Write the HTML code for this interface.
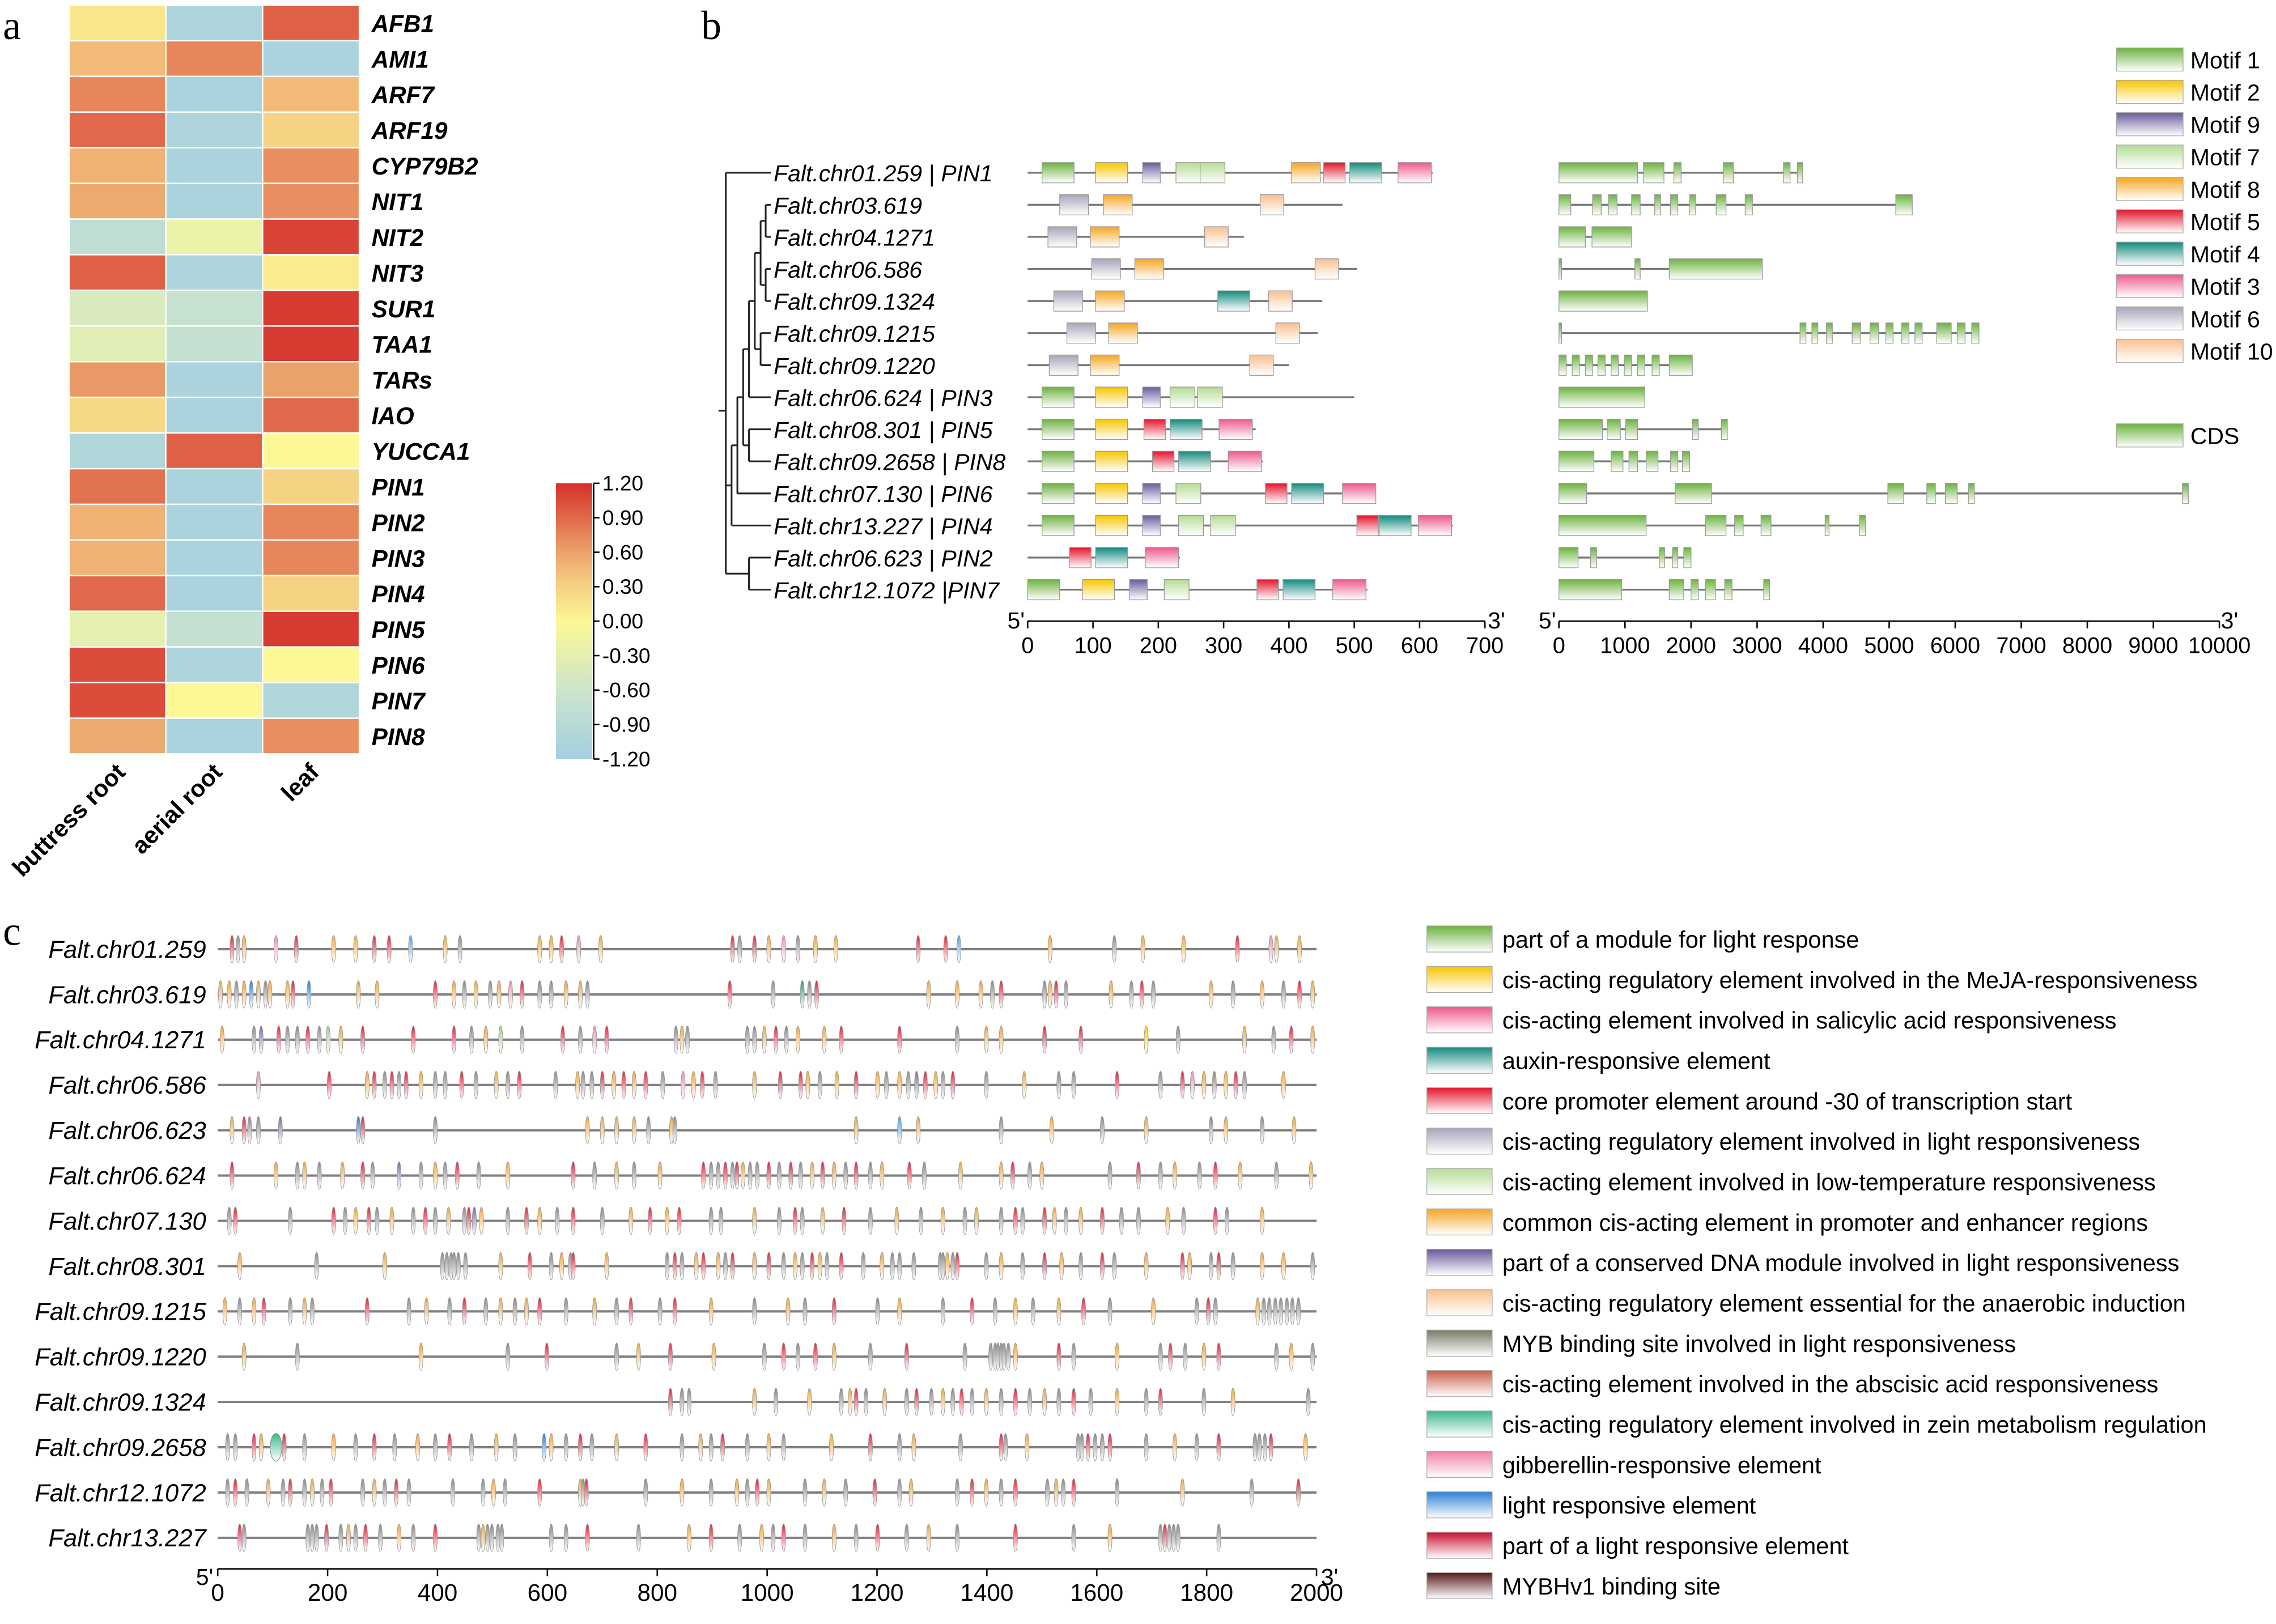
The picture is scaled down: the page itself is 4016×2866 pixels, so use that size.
<!DOCTYPE html>
<html><head><meta charset="utf-8"><style>
html,body{margin:0;padding:0;background:#fff}
svg{display:block}
text{font-family:"Liberation Sans",sans-serif}
text.serif{font-family:"Liberation Serif",serif}
</style></head><body>
<svg id="fig" xmlns="http://www.w3.org/2000/svg" width="4016" height="2866" viewBox="0 0 1568 1119">
<defs id="defs"></defs>
<rect x="0" y="0" width="1568" height="1119" fill="#fff"/>
<g id="root"></g>
</svg>
<script>
// ---------- Panel a data ----------
const heatGenes = ["AFB1","AMI1","ARF7","ARF19","CYP79B2","NIT1","NIT2","NIT3","SUR1","TAA1","TARs","IAO","YUCCA1","PIN1","PIN2","PIN3","PIN4","PIN5","PIN6","PIN7","PIN8"];
const heatCols = ["buttress root","aerial root","leaf"];
const heatButtress = [0.15,0.45,0.75,0.9,0.5,0.55,-0.8,0.95,-0.45,-0.35,0.65,0.25,-1.0,0.85,0.5,0.5,0.9,-0.3,1.05,1.05,0.55];
const heatAerial = [-1.05,0.75,-1.1,-1.05,-1.1,-1.1,-0.2,-1.05,-0.7,-0.75,-1.1,-1.1,0.95,-1.1,-1.1,-1.1,-1.1,-0.75,-1.05,0.0,-1.1];
const heatLeaf = [0.95,-1.1,0.45,0.3,0.7,0.7,1.1,0.1,1.15,1.15,0.6,0.9,0.0,0.3,0.75,0.75,0.3,1.15,0.0,-1.0,0.7];
const cbTicks = ["1.20","0.90","0.60","0.30","0.00","-0.30","-0.60","-0.90","-1.20"];
const cbValues = [1.2,0.9,0.6,0.3,0,-0.3,-0.6,-0.9,-1.2];

// ---------- Panel b data ----------
const geneNames = ["Falt.chr01.259 | PIN1","Falt.chr03.619","Falt.chr04.1271","Falt.chr06.586","Falt.chr09.1324","Falt.chr09.1215","Falt.chr09.1220","Falt.chr06.624 | PIN3","Falt.chr08.301 | PIN5","Falt.chr09.2658 | PIN8","Falt.chr07.130 | PIN6","Falt.chr13.227 | PIN4","Falt.chr06.623 | PIN2","Falt.chr12.1072 |PIN7"];
const proteinLen = [620,482,331,504,451,444,400,500,349,360,533,651,233,520];
const motifIds = [[1,2,9,7,7,8,5,4,3],[6,8,10],[6,8,10],[6,8,10],[6,8,4,10],[6,8,10],[6,8,10],[1,2,9,7,7],[1,2,5,4,3],[1,2,5,4,3],[1,2,9,7,5,4,3],[1,2,9,7,7,5,4,3],[5,4,3],[1,2,9,7,5,4,3]];
const motifStart = [[22,104,176,227,264,404,453,493,567],[49,116,356],[31,96,271],[98,164,440],[40,104,291,369],[60,124,380],[33,96,340],[22,104,176,218,260],[22,104,178,218,293],[22,104,191,231,307],[22,104,176,227,364,404,482],[22,104,176,231,280,504,538,598],[64,104,180],[0,84,156,209,351,391,467]];
const motifLen = {1:49,2:49,9:27,7:38,8:44,5:33,4:49,3:51,6:44,10:36};
const motifLegend = [1,2,9,7,8,5,4,3,6,10];
const motifColors = {1:"#6cb33f",2:"#f7c600",9:"#6a5a9c",7:"#b5dc94",8:"#f5a623",5:"#e3152b",4:"#138a7e",3:"#ee5a8a",6:"#a9a5ba",10:"#fbc08e"};
const aaTicks = [0,100,200,300,400,500,600,700];
const geneLen = [3690,5350,1100,3080,1340,6360,2020,1300,2550,1980,9530,4640,2000,3190];
const exons = [
 [[0,1190],[1280,1590],[1740,1850],[2490,2640],[3400,3500],[3610,3690]],
 [[0,180],[510,640],[750,880],[1100,1230],[1450,1540],[1690,1800],[1980,2070],[2380,2530],[2820,2930],[5100,5350]],
 [[0,400],[500,1100]],
 [[0,40],[1150,1230],[1670,3080]],
 [[0,1340]],
 [[0,40],[3650,3740],[3830,3920],[4050,4140],[4440,4570],[4710,4840],[4950,5060],[5190,5300],[5390,5500],[5720,5940],[6030,6150],[6250,6360]],
 [[0,110],[200,310],[400,510],[590,700],[790,900],[990,1100],[1190,1300],[1410,1520],[1670,2020]],
 [[0,1300]],
 [[0,660],[730,930],[1010,1190],[2020,2110],[2460,2550]],
 [[0,530],[790,970],[1060,1190],[1320,1500],[1690,1800],[1870,1980]],
 [[0,420],[1760,2310],[4980,5220],[5570,5700],[5850,6030],[6200,6290],[9440,9530]],
 [[0,1320],[2220,2530],[2660,2790],[3060,3210],[4030,4090],[4550,4640]],
 [[0,290],[480,570],[1520,1600],[1720,1800],[1890,2000]],
 [[0,950],[1670,1890],[2000,2110],[2220,2370],[2510,2620],[3100,3190]]
];
const bpTicks = [0,1000,2000,3000,4000,5000,6000,7000,8000,9000,10000];

// ---------- Panel c data ----------
const promGenes = ["Falt.chr01.259","Falt.chr03.619","Falt.chr04.1271","Falt.chr06.586","Falt.chr06.623","Falt.chr06.624","Falt.chr07.130","Falt.chr08.301","Falt.chr09.1215","Falt.chr09.1220","Falt.chr09.1324","Falt.chr09.2658","Falt.chr12.1072","Falt.chr13.227"];
const promPos = [
 [26,37,48,106,143,211,251,285,312,351,414,441,586,607,626,657,697,937,950,977,1003,1030,1056,1088,1125,1275,1325,1349,1515,1632,1684,1758,1856,1917,1927,1969],
 [5,21,34,48,61,74,87,95,127,137,166,256,290,396,430,449,470,496,512,533,554,586,607,634,660,673,932,1011,1064,1077,1090,1294,1346,1389,1410,1426,1505,1515,1526,1544,1626,1663,1682,1703,1808,1848,1901,1940,1969,1993],
 [8,66,79,111,127,145,164,185,201,224,264,356,430,462,488,515,554,628,660,686,708,834,845,855,964,977,995,1016,1035,1056,1104,1135,1241,1346,1399,1426,1505,1571,1690,1748,1869,1922,1954,1993],
 [74,203,272,285,304,317,330,343,370,396,414,444,470,507,528,549,615,655,665,681,700,721,739,758,779,810,847,866,882,906,977,1024,1061,1074,1096,1127,1162,1201,1217,1241,1257,1272,1288,1307,1320,1338,1399,1468,1531,1558,1637,1716,1756,1774,1795,1814,1835,1853,1869,1940],
 [26,48,58,74,114,256,264,396,673,700,726,758,784,826,832,1162,1241,1275,1426,1518,1610,1690,1808,1835,1901,1959],
 [26,106,145,158,185,227,264,282,330,370,396,414,436,475,528,647,686,726,758,805,884,898,911,924,937,945,956,969,982,1003,1022,1043,1061,1082,1101,1122,1143,1162,1188,1209,1259,1286,1352,1426,1447,1478,1500,1624,1676,1716,1742,1787,1816,1861,1927,1990],
 [21,32,132,211,232,251,275,290,317,356,378,396,420,449,457,467,480,528,562,586,618,647,700,752,787,818,840,898,916,977,1022,1051,1064,1101,1140,1188,1236,1280,1320,1360,1381,1426,1452,1465,1505,1523,1544,1571,1610,1645,1676,1729,1758,1816,1837,1901],
 [40,180,304,409,417,425,430,438,451,515,568,607,626,642,647,708,818,832,845,871,884,911,924,937,977,1003,1030,1051,1064,1082,1096,1109,1135,1175,1209,1228,1241,1267,1315,1320,1328,1338,1346,1399,1426,1465,1505,1536,1571,1610,1632,1690,1756,1769,1808,1822,1848,1901,1940,1993],
 [13,40,66,84,132,158,172,272,348,380,422,449,488,515,541,562,586,634,686,726,752,805,832,898,977,1038,1069,1122,1201,1241,1320,1373,1415,1452,1484,1531,1576,1624,1703,1782,1803,1816,1893,1904,1914,1925,1935,1946,1956,1967],
 [48,145,370,528,599,726,766,824,903,995,1030,1056,1088,1122,1188,1254,1360,1407,1415,1420,1426,1431,1439,1452,1531,1558,1637,1716,1734,1761,1795,1822,1927,1954,1993],
 [824,845,858,977,1016,1077,1135,1151,1162,1180,1214,1254,1272,1299,1320,1338,1354,1373,1399,1426,1452,1478,1505,1531,1558,1589,1637,1690,1716,1795,1848,1985],
 [18,32,66,79,106,121,158,211,251,285,322,364,396,422,462,507,541,594,607,634,660,681,726,779,845,879,898,919,964,1003,1030,1117,1188,1241,1267,1352,1426,1434,1473,1566,1573,1584,1597,1610,1624,1690,1742,1782,1822,1888,1896,1906,1917,1980],
 [18,32,53,92,119,132,158,172,190,206,264,285,304,325,348,428,483,502,523,586,660,665,671,779,845,898,945,964,982,1003,1069,1104,1143,1196,1241,1262,1346,1373,1399,1426,1452,1510,1526,1539,1558,1637,1756,1882,1967],
 [40,48,164,172,180,198,224,238,251,269,296,330,356,396,475,483,491,499,510,517,607,634,673,766,858,898,950,990,1011,1030,1069,1122,1162,1201,1254,1294,1346,1452,1558,1624,1716,1724,1732,1740,1748,1822]
];
const promTypes = [
 "4a7d47744b7a794d74a47da7744b7a974d77",
 "77a7e7a774e7747a7a7d4aa77a4a3a4777a4a74a7a4a7a7a47",
 "7a84aa4a57444a75a4ad4a7aaa74a7744a77441a7a47",
 "d474a4a47aa4a7a4a7aa47474ad74a7447a747a7a847a4a7aa4a4d7a74a7",
 "74aa8e4a7777a7a7b7a7a7a7a7",
 "47a7a74a8a7a4a74a7a74aa4a47aa4a4a747a4a74a774a7a4a7a47a7",
 "a4a4a74a7a4a7a487a47a4a7474aa7a4a74a7a7a7a4a47a74aa7a4a7",
 "7a7aaaaaa74a7a47a4a747a474a7a47a4a7aaaaa7a4a7a47a4a747a4a7",
 "7a74a7a4a7a4a7a74a7a4a47a7a4a7a4a7a74a7a4a7aaaaaaaaa",
 "7a7a4a747a4a47a4aaaaaaa74a7a4a74a7a",
 "4aa7a7a74a7a4a7a4a7a4a7a4a7a4a7a",
 "aa47a4a7a4a7a4a7ae7a4a74a7a4a7a74a7a4a7aa4aa4a7a4aaa47",
 "a4a7a4a7a4a7a4aaa7a47a4a7a7a47a7a4a7a47a4a7a4a7a4",
 "4aaaa4a7a4a7a4a7aaaaaa4a74a7a4a7a4a7a4a7a4aaaa4a4"
];
const promTypeColors = {"4":"#e0243a","7":"#f0a840","a":"#8a8a8a","b":"#5aa0e0","d":"#f090b0","e":"#2d7fd6","8":"#7d6aa8","5":"#9fcf7f","3":"#2a9c8c","1":"#f6d000"};
const promTicks = [0,200,400,600,800,1000,1200,1400,1600,1800,2000];
const promLegendLabels = ["part of a module for light response","cis-acting regulatory element involved in the MeJA-responsiveness","cis-acting element involved in salicylic acid responsiveness","auxin-responsive element","core promoter element around -30 of transcription start","cis-acting regulatory element involved in light responsiveness","cis-acting element involved in low-temperature responsiveness","common cis-acting element in promoter and enhancer regions","part of a conserved DNA module involved in light responsiveness","cis-acting regulatory element essential for the anaerobic induction","MYB binding site involved in light responsiveness","cis-acting element involved in the abscisic acid responsiveness","cis-acting regulatory element involved in zein metabolism regulation","gibberellin-responsive element","light responsive element","part of a light responsive element","MYBHv1 binding site"];
const promLegendColors = ["#6cb33f","#f7c600","#ee5a8a","#138a7e","#e3152b","#a9a5ba","#b5dc94","#f5a623","#6a5a9c","#fbc08e","#7a7a68","#c8604a","#3cb88a","#f080a8","#2d7fd6","#c8102e","#5a1a1a"];

// ---------- helpers ----------
const NS="http://www.w3.org/2000/svg";
const root=document.getElementById('root');
const defs=document.getElementById('defs');
function mk(tag,attrs,parent){const e=document.createElementNS(NS,tag);for(const k in attrs)e.setAttribute(k,attrs[k]);(parent||root).appendChild(e);return e;}
function txt(s,attrs,parent){const e=mk('text',attrs,parent);e.textContent=s;return e;}
const gradCache={};
function grad(color){
  if(gradCache[color])return gradCache[color];
  const id='g'+Object.keys(gradCache).length;
  const g=mk('linearGradient',{id:id,x1:0,y1:0,x2:0,y2:1},defs);
  mk('stop',{offset:'0',"stop-color":color},g);
  mk('stop',{offset:'1',"stop-color":'#ffffff'},g);
  gradCache[color]='url(#'+id+')';return gradCache[color];
}
function hexToRgb(h){return [parseInt(h.slice(1,3),16),parseInt(h.slice(3,5),16),parseInt(h.slice(5,7),16)];}
const heatStops=[[-1.2,"#a3cfe2"],[-0.6,"#cde5cb"],[0,"#fbf895"],[0.3,"#f6d283"],[0.6,"#eba26a"],[1.2,"#d5302b"]];
function heatColor(v){
  v=Math.max(-1.2,Math.min(1.2,v));
  for(let i=0;i<heatStops.length-1;i++){const [a,ca]=heatStops[i],[b,cb]=heatStops[i+1];
    if(v<=b){const t=(v-a)/(b-a),A=hexToRgb(ca),B=hexToRgb(cb);return 'rgb('+A.map((x,j)=>Math.round(x+(B[j]-x)*t)).join(',')+')';}}
  return heatStops[heatStops.length-1][1];
}

// ---------- panel labels ----------
let e;
e=txt('a',{x:2,y:27,"font-size":28,"class":"serif"});


e=txt('b',{x:483,y:27,"font-size":28,"class":"serif"});


e=txt('c',{x:2,y:651,"font-size":28,"class":"serif"});



// ---------- panel a heatmap ----------
const hmX0=48,hmColW=66.7,hmY0=4,hmRowH=24.57;
const heatSeries=[heatButtress,heatAerial,heatLeaf];
const gA=mk('g',{});


heatGenes.forEach((g,i)=>{
  heatSeries.forEach((s,j)=>{
    const r=mk('rect',{x:hmX0+j*hmColW,y:hmY0+i*hmRowH,width:hmColW-1,height:hmRowH-1,fill:heatColor(s[i])},gA);
    
    
  });
  const t=txt(g,{x:256,y:hmY0+i*hmRowH+18,"font-size":16.5,"font-weight":"bold","font-style":"italic"},gA);
  
  
});
heatCols.forEach((c,j)=>{
  const x=hmX0+j*hmColW+hmColW/2+6, y=533;
  const t=txt(c,{x:x,y:y,"font-size":16.5,"font-weight":"bold","text-anchor":"end",transform:'rotate(-45 '+x+' '+y+')'},gA);
  
  
});
const cbG=mk('g',{});


const cbGrad=mk('linearGradient',{id:'cbgrad',x1:0,y1:0,x2:0,y2:1},defs);
heatStops.slice().reverse().forEach(s=>mk('stop',{offset:((1.2-s[0])/2.4).toFixed(3),"stop-color":s[1]},cbGrad));
const cbTop=333,cbBot=523;
mk('rect',{x:383,y:cbTop,width:25,height:cbBot-cbTop,fill:'url(#cbgrad)'},cbG);
mk('line',{x1:409,y1:cbTop,x2:409,y2:cbBot,stroke:'#000','stroke-width':1},cbG);
cbValues.forEach((v,i)=>{
  const y=cbTop+(1.2-v)/2.4*(cbBot-cbTop);
  mk('line',{x1:409,y1:y,x2:413,y2:y,stroke:'#000','stroke-width':1},cbG);
  const t=txt(cbTicks[i],{x:415,y:y+5,"font-size":14.5},cbG);
  
  
});

// ---------- panel b ----------
const rowY0=119,rowDY=22.1;
const aaX=v=>708+v*0.45;
const bpX=v=>1074+v*0.0455;
const gB=mk('g',{});


const treeG=mk('g',{stroke:'#222','stroke-width':1.2,fill:'none'},gB);


const Y=i=>rowY0+i*rowDY;
function vline(x,y1,y2){mk('line',{x1:x,y1:y1,x2:x,y2:y2},treeG);}
function hline(x1,x2,y){mk('line',{x1:x1,y1:y,x2:x2,y2:y},treeG);}
const xLeaf=531;
vline(527.5,Y(1),Y(2));hline(527.5,xLeaf,Y(1));hline(527.5,xLeaf,Y(2));
const yA=(Y(1)+Y(2))/2;
vline(527.5,Y(3),Y(4));hline(527.5,xLeaf,Y(3));hline(527.5,xLeaf,Y(4));
const yB=(Y(3)+Y(4))/2;
vline(524,yA,yB);hline(524,527.5,yA);hline(524,527.5,yB);
const yC=(yA+yB)/2;
vline(524,Y(5),Y(6));hline(524,xLeaf,Y(5));hline(524,xLeaf,Y(6));
const yD=(Y(5)+Y(6))/2;
vline(520,yC,yD);hline(520,524,yC);hline(520,524,yD);
const yE=(yC+yD)/2;
vline(516,yE,Y(7));hline(516,520,yE);hline(516,xLeaf,Y(7));
const yF=(yE+Y(7))/2;
vline(516,Y(8),Y(9));hline(516,xLeaf,Y(8));hline(516,xLeaf,Y(9));
const yH=(Y(8)+Y(9))/2;
vline(512,yF,yH);hline(512,516,yF);hline(512,516,yH);
const yG=(yF+yH)/2;
vline(508,yG,Y(10));hline(508,512,yG);hline(508,xLeaf,Y(10));
const yI=(yG+Y(10))/2;
vline(504,yI,Y(11));hline(504,508,yI);hline(504,xLeaf,Y(11));
const yJ=(yI+Y(11))/2;
vline(516,Y(12),Y(13));hline(516,xLeaf,Y(12));hline(516,xLeaf,Y(13));
const yK=(Y(12)+Y(13))/2;
vline(500,Y(0),yK);hline(500,xLeaf,Y(0));hline(500,504,yJ);hline(500,516,yK);
hline(495,500,283);

geneNames.forEach((n,i)=>{
  const y=Y(i);
  const t=txt(n,{x:533,y:y+6,"font-size":16,"font-style":"italic"},gB);
  
  
  mk('line',{x1:aaX(0),y1:y,x2:aaX(proteinLen[i]),y2:y,stroke:'#777','stroke-width':1.3},gB);
  motifIds[i].forEach((m,k)=>{
    const r=mk('rect',{x:aaX(motifStart[i][k]),y:y-7,width:motifLen[m]*0.45,height:14,fill:grad(motifColors[m]),stroke:'#999','stroke-width':0.5},gB);
    
    
  });
  mk('line',{x1:bpX(0),y1:y,x2:bpX(geneLen[i]),y2:y,stroke:'#777','stroke-width':1.3},gB);
  exons[i].forEach(ex=>{
    const r=mk('rect',{x:bpX(ex[0]),y:y-7,width:Math.max(1.5,(ex[1]-ex[0])*0.0455),height:14,fill:grad('#6cb33f'),stroke:'#999','stroke-width':0.5},gB);
    
    
  });
});
function axis(parent,x0,x1,y,ticks,scale,name,fs){
  const g=mk('g',{},parent);
  
  
  mk('line',{x1:x0,y1:y,x2:x1,y2:y,stroke:'#000','stroke-width':1},g);
  ticks.forEach(t=>{const x=scale(t);mk('line',{x1:x,y1:y,x2:x,y2:y+5,stroke:'#000','stroke-width':1},g);
    const l=txt(String(t),{x:x,y:y+22,"font-size":fs,"text-anchor":"middle"},g);
    
    });
  return g;
}
axis(gB,aaX(0),aaX(700),428,aaTicks,aaX,'protein-length-axis',15.5);
axis(gB,bpX(0),bpX(10000),428,bpTicks,bpX,'gene-length-axis',15.5);
txt("5'",{x:694,y:433,"font-size":16},gB);
txt("3'",{x:1025,y:433,"font-size":16},gB);
txt("5'",{x:1060,y:433,"font-size":16},gB);
txt("3'",{x:1530,y:433,"font-size":16},gB);
const legB=mk('g',{},gB);


motifLegend.forEach((m,i)=>{
  const y=41+i*22.3;
  const r=mk('rect',{x:1458,y:y-8,width:46,height:16,fill:grad(motifColors[m]),stroke:'#aaa','stroke-width':0.5},legB);
  
  
  const t=txt('Motif '+m,{x:1509,y:y+6,"font-size":16},legB);
  
  
});
e=mk('rect',{x:1458,y:292,width:46,height:16,fill:grad('#6cb33f'),stroke:'#aaa','stroke-width':0.5},legB);


e=txt('CDS',{x:1509,y:306,"font-size":16},legB);



// ---------- panel c ----------
const pX=v=>150+v*0.3785;
const gC=mk('g',{});


promGenes.forEach((n,i)=>{
  const y=654+i*31.2;
  const t=txt(n,{x:142,y:y+6,"font-size":17,"font-style":"italic","text-anchor":"end"},gC);
  
  
  mk('line',{x1:pX(0),y1:y,x2:pX(2000),y2:y,stroke:'#808080','stroke-width':1.6},gC);
  const ty=promTypes[i];
  promPos[i].forEach((p,k)=>{
    const c=promTypeColors[ty[k%ty.length]]||'#f0a840';
    const el=mk('ellipse',{cx:pX(p),cy:y,rx:1.4,ry:9.5,fill:grad(c),stroke:'#999','stroke-width':0.35},gC);
    
    
  });
});
e=mk('ellipse',{cx:pX(106),cy:654+11*31.2,rx:4,ry:9.5,fill:grad('#3cb88a'),stroke:'#888','stroke-width':0.4},gC);


axis(gC,pX(0),pX(2000),1081,promTicks,pX,'promoter-position-axis',16.5);
txt("5'",{x:135,y:1092,"font-size":16},gC);
txt("3'",{x:910,y:1092,"font-size":16},gC);
const legC=mk('g',{},gC);


promLegendLabels.forEach((l,i)=>{
  const y=647+i*27.85;
  const r=mk('rect',{x:983,y:y-9,width:45,height:18,fill:grad(promLegendColors[i]),stroke:'#aaa','stroke-width':0.5},legC);
  
  
  const t=txt(l,{x:1035,y:y+6,"font-size":16.2},legC);
  
  
});
</script>
</body></html>
